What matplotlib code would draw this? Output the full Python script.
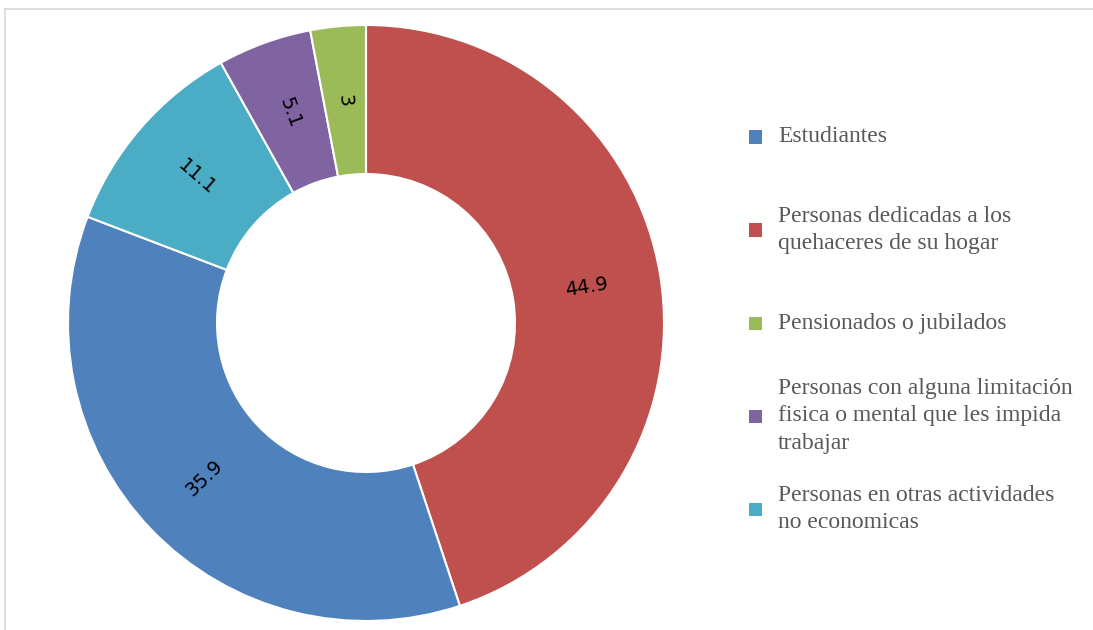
import numpy as np
import matplotlib
matplotlib.use("Agg")
import matplotlib.pyplot as plt
from matplotlib.patches import Rectangle
from matplotlib.lines import Line2D

# slices in drawing order (clockwise from 12 o'clock)
slice_names = ["Personas dedicadas a los\nquehaceres de su hogar",
               "Estudiantes",
               "Personas en otras actividades\nno economicas",
               "Personas con alguna limitación\nfisica o mental que les impida\ntrabajar",
               "Pensionados o jubilados"]
slice_values = [44.9, 35.9, 11.1, 5.1, 3]
slice_labels = ["44.9", "35.9", "11.1", "5.1", "3"]
slice_colors = ["#C0504D", "#4F81BD", "#4BACC6", "#8064A2", "#9BBB59"]

# legend order
legend_names = ["Estudiantes",
                "Personas dedicadas a los\nquehaceres de su hogar",
                "Pensionados o jubilados",
                "Personas con alguna limitación\nfisica o mental que les impida\ntrabajar",
                "Personas en otras actividades\nno economicas"]

W, H = 1093, 630
fig = plt.figure(figsize=(W / 100, H / 100), dpi=100)

# chart area frame (top and left edges)
fig.add_artist(Line2D([5 / W, 1], [1 - 9 / H, 1 - 9 / H], color="#D9D9D9", lw=1.2))
fig.add_artist(Line2D([5 / W, 5 / W], [0, 1 - 9 / H], color="#D9D9D9", lw=1.2))

cx, cy, r = 366, 323, 298
ax = fig.add_axes([(cx - r) / W, (H - cy - r) / H, 2 * r / W, 2 * r / H])

wedges, _ = ax.pie(slice_values, colors=slice_colors, startangle=90, counterclock=False,
                   radius=1, wedgeprops=dict(width=0.5, edgecolor="white", linewidth=1.5))
ax.set_xlim(-1, 1)
ax.set_ylim(-1, 1)
ax.set_aspect("equal")
ax.axis("off")

total = sum(slice_values)
cum = 0
for val, lab in zip(slice_values, slice_labels):
    mid = cum + val / 2
    cum += val
    ang = 90 - 360 * mid / total
    rad = np.deg2rad(ang)
    rot = ang
    while rot > 90:
        rot -= 180
    while rot <= -90:
        rot += 180
    ax.text(0.75 * np.cos(rad), 0.75 * np.sin(rad), lab, ha="center", va="center",
            rotation=rot, rotation_mode="anchor", fontsize=14, color="black",
            family="DejaVu Sans")

colors_by_name = dict(zip(slice_names, slice_colors))
for i, name in enumerate(legend_names):
    yc = 137 + 93 * i
    fig.add_artist(Rectangle((749 / W, 1 - (yc + 6.5) / H), 13 / W, 13 / H,
                             transform=fig.transFigure, facecolor=colors_by_name[name],
                             edgecolor="none"))
    fig.text(778 / W, 1 - yc / H, name, ha="left", va="center", fontsize=17,
             family="Liberation Serif", color="#595959", linespacing=1.4)

fig.savefig("out.png", dpi=100)
